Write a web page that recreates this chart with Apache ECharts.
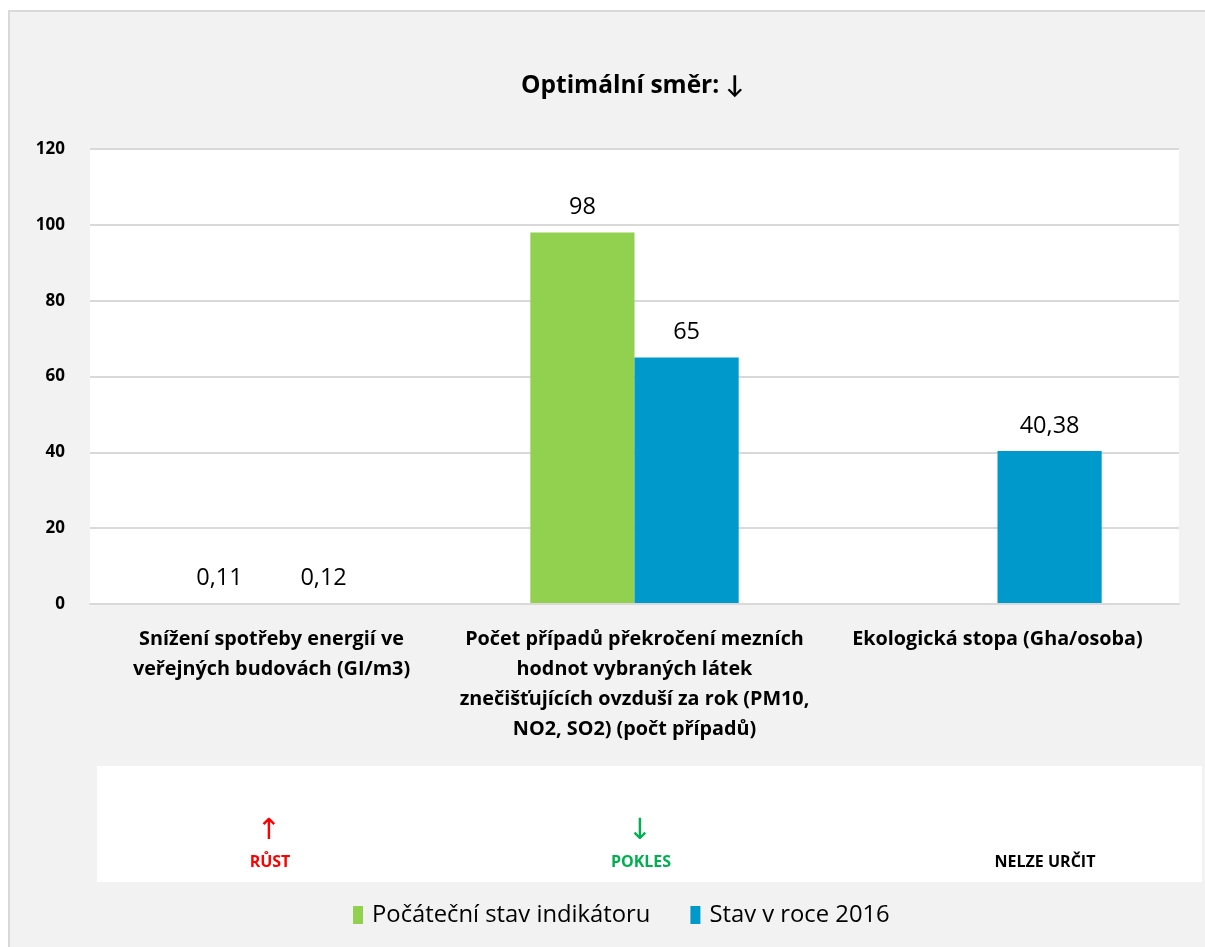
<!DOCTYPE html>
<html><head><meta charset="utf-8">
<script src="https://cdn.jsdelivr.net/npm/echarts@6/dist/echarts.min.js"></script>
<style>html,body{margin:0;padding:0;background:#fff}#c{width:1205px;height:947px}</style>
</head><body><div id="c"></div>
<script>
const categories = [
  'Snížení spotřeby energií ve\nveřejných budovách (GI/m3)',
  'Počet případů překročení mezních\nhodnot vybraných látek\nznečišťujících ovzduší za rok (PM10,\nNO2, SO2) (počt případů)',
  'Ekologická stopa (Gha/osoba)'
];
const seriesNames = ['Počáteční stav indikátoru', 'Stav v roce 2016'];
const initialValues = [0.11, 98, null];
const values2016 = [0.12, 65, 40.38];
const yTicks = { min: 0, max: 120, interval: 20 };
const titleText = 'Optimální směr: ↓';
const directionLabels = [
  { arrow: '↑', text: 'RŮST', color: '#ff0000' },
  { arrow: '↓', text: 'POKLES', color: '#00b050' },
  { arrow: '', text: 'NELZE URČIT', color: '#000000' }
];

const FONT = '"Open Sans", Lato, "DejaVu Sans", sans-serif';
const chart = echarts.init(document.getElementById('c'));
const fmt = p => (p.value == null ? '' : String(p.value).replace('.', ','));
const labelStyle = { show: true, position: 'top', distance: 13, formatter: fmt, fontFamily: FONT, fontSize: 23.5, color: '#000' };

const dirCenters = [270, 641, 1045];
const graphics = [
  { type: 'rect', z: -10, shape: { x: 9, y: 11, width: 1220, height: 960 }, style: { fill: '#f2f2f2', stroke: '#d9d9d9', lineWidth: 2 } },
  { type: 'rect', z: -5, shape: { x: 97, y: 766, width: 1105, height: 116 }, style: { fill: '#ffffff' } }
];
directionLabels.forEach((d, i) => {
  if (d.arrow) graphics.push({ type: 'text', x: dirCenters[i] - 1, y: 831, style: { text: d.arrow, fill: d.color, font: '29px "DejaVu Sans", sans-serif', textAlign: 'center', textVerticalAlign: 'middle' } });
  graphics.push({ type: 'text', x: dirCenters[i], y: 862, style: { text: d.text, fill: d.color, font: 'bold 16px ' + FONT, textAlign: 'center', textVerticalAlign: 'middle' } });
});

chart.setOption({
  animation: false,
  backgroundColor: 'transparent',
  title: { text: titleText, left: 516, top: 69, textStyle: { fontFamily: FONT, fontSize: 24.5, fontWeight: 'bold', color: '#000' } },
  graphic: graphics,
  legend: {
    bottom: 15, left: 348, itemWidth: 10, itemHeight: 18, itemGap: 40, icon: 'rect',
    textStyle: { fontFamily: FONT, fontSize: 23.8, color: '#000', padding: [0, 0, 0, 4] },
    data: seriesNames
  },
  grid: { left: 90, right: 26, top: 149, bottom: 343, show: true, backgroundColor: '#fff', borderWidth: 0 },
  xAxis: {
    type: 'category', data: categories, z: 5,
    axisLine: { show: true, lineStyle: { color: '#d9d9d9', width: 2 } },
    axisTick: { show: false },
    axisLabel: { interval: 0, margin: 20, lineHeight: 30, fontFamily: FONT, fontSize: 19.8, fontWeight: 'bold', color: '#000' }
  },
  yAxis: {
    type: 'value', min: yTicks.min, max: yTicks.max, interval: yTicks.interval,
    axisLine: { show: false }, axisTick: { show: false },
    splitLine: { lineStyle: { color: '#d9d9d9', width: 2 } },
    axisLabel: { margin: 25, fontFamily: FONT, fontSize: 17, fontWeight: 'bold', color: '#000' }
  },
  series: [
    { name: seriesNames[0], type: 'bar', data: initialValues, itemStyle: { color: '#92d050' }, barGap: '0%', barCategoryGap: '42.6%', label: labelStyle },
    { name: seriesNames[1], type: 'bar', data: values2016, itemStyle: { color: '#0099cc' }, barGap: '0%', barCategoryGap: '42.6%', label: labelStyle }
  ]
});
</script></body></html>
